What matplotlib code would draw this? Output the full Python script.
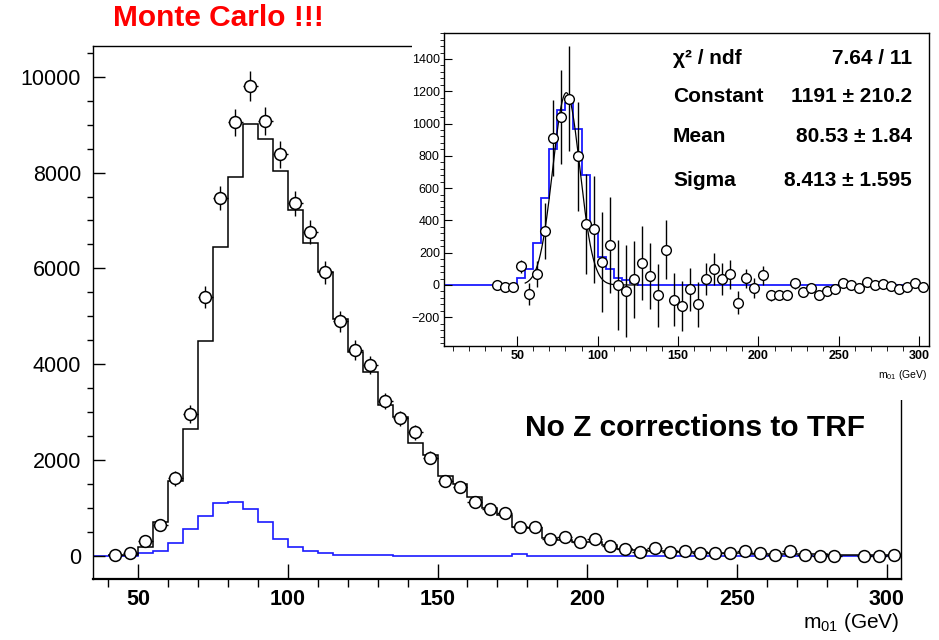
import numpy as np
import matplotlib.pyplot as plt
from matplotlib.ticker import MultipleLocator
from matplotlib.patches import Rectangle

plt.rcParams['font.family'] = 'Liberation Sans'
plt.rcParams['mathtext.fontset'] = 'custom'
plt.rcParams['mathtext.rm'] = 'Liberation Sans'
plt.rcParams['mathtext.it'] = 'Liberation Sans:italic'
plt.rcParams['mathtext.bf'] = 'Liberation Sans:bold'

# ---- main plot: Monte Carlo m01 distribution (5 GeV bins) ----
edges = np.arange(40, 306, 5)
centers = edges[:-1] + 2.5

mc_hist = [20, 30, 180, 700, 1564, 2649, 4484, 6450, 7910, 9023,
           8697, 8036, 7216, 6521, 5917, 4936, 4261, 3844, 3149, 2905,
           2363, 2106, 1668, 1500, 1230, 1000, 860, 600, 580, 380,
           340, 300, 300, 220, 150, 120, 110, 95, 85, 75,
           65, 60, 55, 50, 45, 40, 35, 32, 30, 28,
           25, 22, 20]

mc_points = [30, 56, 312, 646, 1620, 2961, 5395, 7460, 9051, 9802,
             9072, 8384, 7362, 6764, 5917, 4901, 4296, 3983, 3232, 2871,
             2580, 2050, 1571, 1430, 1119, 980, 890, 598, 598, 348,
             403, 285, 355, 209, 139, 90, 160, 90, 111, 56,
             56, 70, 111, 56, 21, 111, 21, 0, 0, np.nan,
             0, 0, 21]

mc_errors = [60, 70, 100, 120, 150, 180, 230, 250, 280, 310,
             290, 280, 260, 250, 240, 220, 200, 190, 170, 160,
             150, 140, 120, 115, 100, 95, 90, 75, 75, 60,
             60, 50, 55, 45, 35, 30, 40, 30, 30, 25,
             25, 25, 30, 25, 15, 30, 15, 10, 10, np.nan,
             10, 10, 15]

blue_edges = np.arange(35, 306, 5)
blue_hist = [0, 0, 0, 56, 111, 277, 556, 841, 1112, 1133,
             973, 703, 355, 181, 111, 56, 21, 21, 21, 21,
             5, 5, 5, 5, 5, 5, 5, 5, 40, 0,
             0, 0, 0, 0, 0, 0, 0, 0, 0, 0,
             0, 0, 0, 0, 0, 0, 0, 0, 0, 0,
             0, 0, 0, 0]

# ---- inset: subtracted distribution with Gaussian fit ----
in_centers = np.arange(37.5, 303, 5)
in_points = [0, -10, -12, 116, -55, 67, 333, 908, 1040, 1154,
             796, 377, 344, 142, 248, 0, -39, 35, 134, 57,
             -64, 217, -91, -130, -27, -119, 35, 98, 39, 67,
             -110, 41, -18, 60, -64, -64, -64, 10, -41, -16,
             -59, -35, -27, 10, -3, -18, 21, 0, 5, -8,
             -27, -15, 12, -15]
in_errors = [15, 20, 20, 40, 68, 80, 175, 235, 290, 325,
             340, 310, 330, 310, 300, 280, 285, 240, 230, 205,
             195, 183, 165, 155, 135, 140, 100, 100, 100, 90,
             70, 60, 60, 60, 35, 30, 30, 35, 30, 28,
             28, 25, 25, 22, 22, 20, 20, 18, 18, 16,
             16, 15, 15, 15]

in_edges = np.arange(5, 306, 5)
in_blue = [0, 0, 0, 0, 0, 0, 0, 0, 0, 41,
           97, 258, 537, 841, 1085, 1127, 965, 682, 345, 176,
           97, 41, 31, 10, 0, 0, 0, 0, 0, 0,
           0, 0, 0, 0, 0, 0, 0, 0, 0, 0,
           0, 0, 0, 0, 0, 0, 0, 0, 0, 0,
           0, 0, 0, 0, 0, 0, 0, 0, 0, 0]

fit_const, fit_mean, fit_sigma = 1191, 80.53, 8.413
fit_range = (55, 125)

stat_names = ['χ² / ndf', 'Constant', 'Mean', 'Sigma']
stat_values = ['7.64 / 11', '1191 ± 210.2', '80.53 ± 1.84', '8.413 ± 1.595']

W, H = 939, 640
fig = plt.figure(figsize=(W / 100, H / 100), dpi=100)


def box(x0, y0, x1, y1):
    return [x0 / W, 1 - y1 / H, (x1 - x0) / W, (y1 - y0) / H]


ax = fig.add_axes(box(93, 46, 901, 579))
ax.stairs(blue_hist, blue_edges, color='#1a1aff', lw=1.2, baseline=None)
ax.stairs(mc_hist, edges, color='black', lw=1.1, baseline=None)
ax.errorbar(centers, mc_points, yerr=mc_errors, xerr=2.5, fmt='o',
            ms=8.5, mfc='white', mec='black', mew=1.1,
            ecolor='black', elinewidth=1.0, capsize=0)
ax.set_xlim(35, 304.7)
ax.set_ylim(-480, 10640)
ax.xaxis.set_major_locator(MultipleLocator(50))
ax.xaxis.set_minor_locator(MultipleLocator(10))
ax.yaxis.set_major_locator(MultipleLocator(2000))
ax.yaxis.set_minor_locator(MultipleLocator(500))
ax.tick_params(direction='in', top=False, right=False, colors='black')
ax.tick_params(axis='x', which='major', length=11, width=1, pad=7, labelsize=15.5)
ax.tick_params(axis='x', which='minor', length=6, width=1)
ax.tick_params(axis='y', which='major', length=8.5, width=1, pad=8.5, labelsize=15.5)
ax.tick_params(axis='y', which='minor', length=4.5, width=1)
for lab in ax.get_xticklabels():
    lab.set_fontweight('bold')
ax.spines['bottom'].set_linewidth(1.6)
for s in ['left', 'top', 'right']:
    ax.spines[s].set_linewidth(1.0)

fig.text(900 / W, 1 - 623 / H, 'm$_{01}$ (GeV)', ha='right', va='center', fontsize=15)
fig.text(525 / W, 1 - 428 / H, 'No Z corrections to TRF', ha='left', va='center',
         fontsize=21.5, fontweight='bold')
fig.text(113 / W, 1 - 18 / H, 'Monte Carlo !!!', ha='left', va='center',
         fontsize=21.5, fontweight='bold', color='#ff0000')

# white pad behind the inset
pad = fig.add_axes(box(412, 0, 939, 400))
pad.axis('off')
pad.add_patch(Rectangle((0, 0), 1, 1, transform=pad.transAxes,
                        facecolor='white', edgecolor='none'))

ins = fig.add_axes(box(444, 33, 929, 346))
ins.stairs(in_blue, in_edges, color='#1a1aff', lw=1.3, baseline=None)
xf = np.linspace(fit_range[0], fit_range[1], 300)
ins.plot(xf, fit_const * np.exp(-0.5 * ((xf - fit_mean) / fit_sigma) ** 2),
         color='black', lw=0.9)
ins.errorbar(in_centers, in_points, yerr=in_errors, xerr=2.5, fmt='o',
             ms=7, mfc='white', mec='black', mew=1.0,
             ecolor='black', elinewidth=1.0, capsize=0)
ins.set_xlim(4.5, 306)
ins.set_ylim(-378, 1561)
ins.xaxis.set_major_locator(MultipleLocator(50))
ins.xaxis.set_minor_locator(MultipleLocator(10))
ins.yaxis.set_major_locator(MultipleLocator(200))
ins.yaxis.set_minor_locator(MultipleLocator(40))
ins.tick_params(direction='in', top=False, right=False)
ins.tick_params(axis='x', which='major', length=7, pad=3, labelsize=9)
ins.tick_params(axis='x', which='minor', length=3.5)
ins.tick_params(axis='y', which='major', length=5.5, pad=3, labelsize=9)
ins.tick_params(axis='y', which='minor', length=2.8)
for lab in ins.get_xticklabels():
    lab.set_fontweight('bold')
for s in ins.spines.values():
    s.set_linewidth(1.0)
fig.text(927 / W, 1 - 375 / H, 'm$_{01}$ (GeV)', ha='right', va='center', fontsize=7.5)

rows_y = [59, 97, 137, 180]
for name, val, yy in zip(stat_names, stat_values, rows_y):
    fig.text(673 / W, 1 - yy / H, name, ha='left', va='center',
             fontsize=15, fontweight='bold')
    fig.text(912 / W, 1 - yy / H, val, ha='right', va='center',
             fontsize=15, fontweight='bold')

fig.savefig('out.png', dpi=100)
